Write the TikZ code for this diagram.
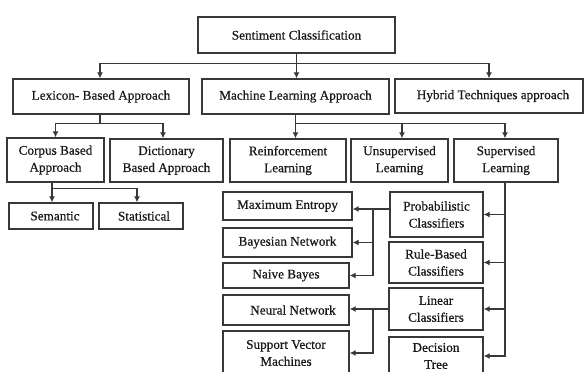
\documentclass[tikz,border=0pt]{standalone}
\usepackage{fontspec}
\newfontfamily\diagfont{Liberation Serif}[FakeBold=0.6]
\newcommand\bxfont{\diagfont\fontsize{13.2pt}{17pt}\selectfont}
\usetikzlibrary{arrows.meta}
\begin{document}
\begin{tikzpicture}[x=1pt,y=-1pt,
  box/.style={draw=black!78, line width=1.3pt, fill=white, align=center, inner sep=1pt, font=\bxfont, text=black!90},
  conn/.style={draw=black!78, line width=1.3pt},
  arr/.style={conn, -{Latex[length=6pt,width=6pt]}}]
\useasboundingbox (0,0) rectangle (584,372);
\clip (0,0) rectangle (584,372);
% top levels
\node[box, minimum width=197, minimum height=36] (sc) at (296.5,35) {Sentiment Classification};
\node[box, minimum width=176, minimum height=35] (lex) at (101,96.5) {Lexicon- Based Approach};
\node[box, minimum width=187, minimum height=35] (ml) at (295.5,96.5) {Machine Learning Approach};
\node[box, minimum width=188, minimum height=34] (hyb) at (489,96) {\hspace{8pt}Hybrid Techniques approach};
% second level
\node[box, minimum width=97, minimum height=44] (corpus) at (55.5,160) {Corpus Based\\Approach};
\node[box, minimum width=113, minimum height=43] (dict) at (166.5,160.5) {Dictionary\\Based Approach};
\node[box, minimum width=116, minimum height=43] (reinf) at (288,160.5) {Reinforcement\\Learning};
\node[box, minimum width=97, minimum height=43] (unsup) at (399.5,160.5) {Unsupervised\\Learning};
\node[box, minimum width=104, minimum height=43] (sup) at (506,160.5) {Supervised\\Learning};
% lexicon leaves
\node[box, minimum width=84, minimum height=26] (sem) at (51,216) {\hspace{8pt}Semantic};
\node[box, minimum width=84, minimum height=26] (stat) at (141,216) {\hspace{6pt}Statistical};
% supervised classifiers
\node[box, minimum width=93, minimum height=45] (prob) at (436.5,214.5) {Probabilistic\\Classifiers};
\node[box, minimum width=94, minimum height=41] (rule) at (436,262.5) {Rule-Based\\Classifiers};
\node[box, minimum width=94, minimum height=42] (linear) at (436,309) {Linear\\Classifiers};
\node[box, minimum width=94, minimum height=38] (dtree) at (436,356) {Decision\\Tree};
% algorithms
\node[box, minimum width=129, minimum height=28] (maxent) at (287.5,206) {Maximum Entropy};
\node[box, minimum width=129, minimum height=29] (bayes) at (287.5,242.5) {Bayesian Network};
\node[box, minimum width=126, minimum height=25] (naive) at (286,275.5) {Naive Bayes};
\node[box, minimum width=126, minimum height=30] (neural) at (286,310) {\hspace{14pt}Neural Network};
\node[box, minimum width=126, minimum height=44] (svm) at (286,353) {Support Vector\\Machines};
% connectors: top
\draw[conn] (sc.south) -- ++(0,10) coordinate (j0);
\draw[arr] (j0) -| ([xshift=-1]lex.north);
\draw[arr] (j0) -- (j0 |- ml.north);
\draw[arr] (j0) -| (hyb.north);
% lexicon
\draw[conn] ([xshift=-1]lex.south) -- ++(0,9) coordinate (j1);
\draw[arr] (j1) -| (corpus.north);
\draw[arr] (j1) -| ([xshift=-3.5]dict.north);
% machine learning
\draw[conn] (ml.south) -- ++(0,9) coordinate (j2);
\draw[arr] (j2) -- (j2 |- reinf.north);
\draw[arr] (j2) -| ([xshift=2.5]unsup.north);
\draw[arr] (j2) -| ([xshift=-1]sup.north);
% corpus
\draw[conn] ([xshift=-3.5]corpus.south) -- ++(0,6) coordinate (j3);
\draw[arr] (j3) -- (j3 |- sem.north);
\draw[arr] (j3) -| ([xshift=-4]stat.north);
% supervised spine
\draw[arr] ([xshift=-1]sup.south) coordinate (j4) |- (dtree.east);
\draw[arr] (j4 |- prob.east) -- (prob.east);
\draw[arr] (j4 |- rule.east) -- (rule.east);
\draw[arr] (j4 |- linear.east) -- (linear.east);
% probabilistic
\coordinate (j5) at (373,209);
\draw[arr] (prob.west |- j5) -- (maxent.east |- j5);
\draw[arr] (j5) |- (naive.east);
\draw[arr] (j5 |- bayes.east) -- (bayes.east);
% linear
\draw[arr] (linear.west) -- (neural.east |- linear.west);
\coordinate (j6) at (373,309);
\draw[arr] (j6) |- (svm.east);
\end{tikzpicture}
\end{document}
